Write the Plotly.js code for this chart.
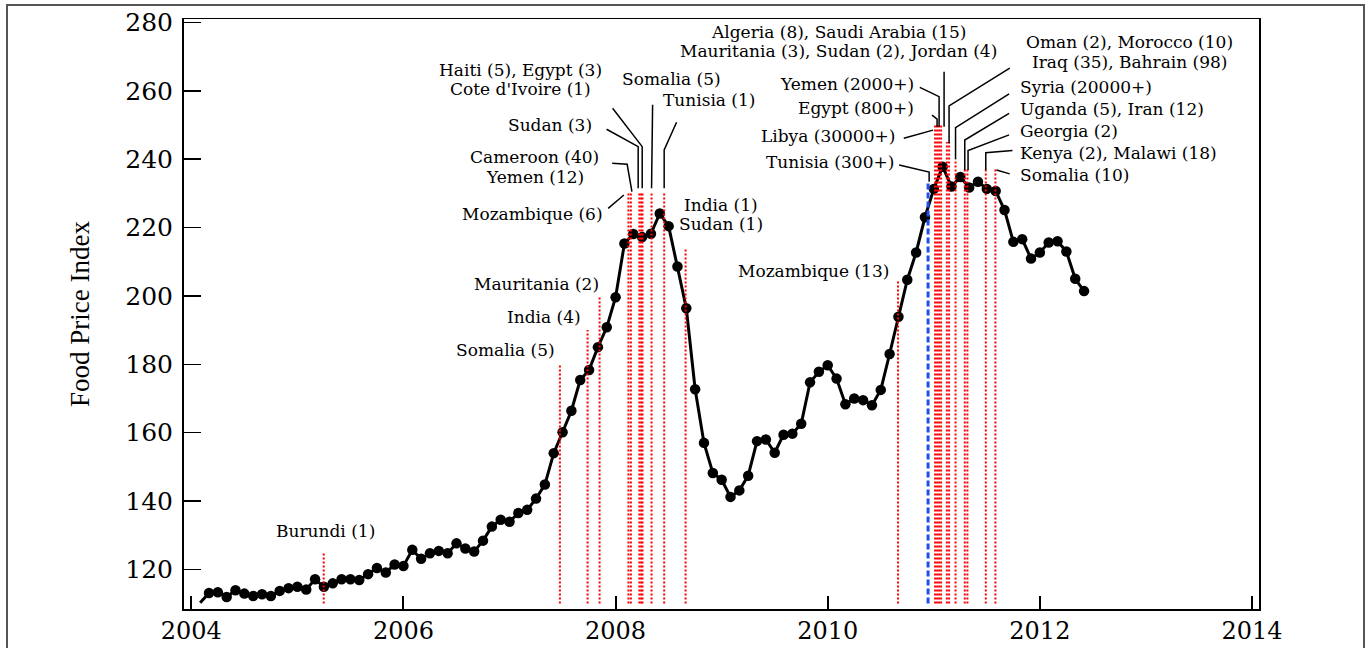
<!DOCTYPE html>
<html>
<head>
<meta charset="utf-8">
<script src="https://cdn.plot.ly/plotly-3.0.1.min.js"></script>
<style>
  html, body { margin: 0; padding: 0; background: #ffffff; width: 1371px; height: 648px; overflow: hidden; }
  #frame { position: absolute; left: 6px; top: 4px; width: 1359px; height: 700px; border: 2px solid #555; box-sizing: border-box; }
  #chart { position: absolute; left: 0; top: 0; width: 1371px; height: 648px; }
</style>
</head>
<body>
<div id="frame"></div>
<div id="chart"></div>
<script>
// Monthly FAO Food Price Index, starting February 2004 and ending June 2012
const startYear = 2004;
const startMonth = 2;
const foodPriceIndex = [
  110.2, 113.1, 113.3, 111.9, 113.9, 112.9, 112.2, 112.7, 112.2, 113.7,
  114.5, 114.9, 114.1, 117.1, 114.9, 115.9, 117.1, 117.1, 116.9, 118.6,
  120.4, 119.1, 121.4, 121.0, 125.7, 123.1, 124.7, 125.4, 124.7, 127.6,
  126.1, 125.2, 128.4, 132.5, 134.5, 133.9, 136.5, 137.4, 140.7, 144.8,
  154.0, 160.1, 166.4, 175.4, 178.3, 185.0, 190.8, 199.6, 215.3, 218.1,
  217.2, 218.2, 224.1, 220.4, 208.6, 196.4, 172.7, 157.0, 148.2, 146.2,
  141.2, 143.1, 147.4, 157.5, 158.0, 154.1, 159.4, 159.7, 162.6, 174.7,
  177.8, 179.7, 175.8, 168.3, 170.0, 169.5, 168.0, 172.5, 183.0, 193.9,
  204.7, 212.7, 223.0, 231.3, 237.8, 232.0, 234.8, 231.7, 233.4, 231.3,
  230.7, 225.1, 215.8, 216.6, 210.9, 212.7, 215.6, 216.0, 213.0, 205.0, 201.4
];

// Food riots (red dotted lines): date (decimal year) and line top (index units)
const riotDates = [2005.248, 2007.475, 2007.736, 2007.849, 2008.121, 2008.144, 2008.224, 2008.241, 2008.254,
  2008.339, 2008.458, 2008.660, 2010.663, 2011.012, 2011.031, 2011.050, 2011.069, 2011.123, 2011.144,
  2011.205, 2011.292, 2011.317, 2011.490, 2011.581];
const riotTops = [125, 180, 190, 200, 230, 230, 230, 230, 230,
  230, 230, 214, 204.5, 250, 250, 250, 250, 245, 245,
  240, 237.3, 237.3, 237, 237];
const riotBase = 110;

// Tunisia (300+) start of the Arab Spring (blue dashed line)
const arabSpringDate = 2010.946;
const arabSpringTop = 233.4;

// Event labels
const labelTexts = ["Burundi (1)", "Somalia (5)", "India (4)", "Mauritania (2)", "Mozambique (6)",
  "Cameroon (40)", "Yemen (12)", "Sudan (3)", "Haiti (5), Egypt (3)", "Cote d'Ivoire (1)",
  "Somalia (5)", "Tunisia (1)", "India (1)", "Sudan (1)", "Mozambique (13)",
  "Tunisia (300+)", "Libya (30000+)", "Egypt (800+)", "Yemen (2000+)",
  "Algeria (8), Saudi Arabia (15)", "Mauritania (3), Sudan (2), Jordan (4)",
  "Oman (2), Morocco (10)", "Iraq (35), Bahrain (98)", "Syria (20000+)",
  "Uganda (5), Iran (12)", "Georgia (2)", "Kenya (2), Malawi (18)", "Somalia (10)"];
const labelX = [2005.268, 2007.437, 2007.685, 2007.852, 2007.890,
  2007.236, 2007.236, 2007.789, 2007.106, 2007.106,
  2008.528, 2008.439, 2008.995, 2008.995, 2010.585,
  2010.632, 2010.648, 2010.827, 2010.827,
  2010.105, 2010.105,
  2012.847, 2012.847, 2011.804,
  2011.804, 2011.804, 2011.804, 2011.804];
const labelY = [131.2, 184.2, 193.9, 203.4, 224.0,
  240.6, 234.9, 250.0, 266.1, 260.45,
  263.5, 257.3, 226.6, 221.0, 207.4,
  239.3, 246.8, 254.9, 262.0,
  277.1, 271.5,
  274.2, 268.5, 261.0,
  254.6, 248.25, 241.7, 235.4];
const labelAnchor = ["center", "right", "right", "right", "right",
  "center", "center", "right", "center", "center",
  "center", "left", "center", "center", "right",
  "right", "right", "right", "right",
  "center", "center",
  "center", "center", "left",
  "left", "left", "left", "left"];

// Leader lines from labels to event lines (decimal year, index units)
const leaderX = [
  [2007.930, 2008.078],
  [2007.968, 2008.109, 2008.154],
  [2007.915, 2008.213, 2008.213],
  [2007.972, 2008.251, 2008.251],
  [2008.349, 2008.339],
  [2008.575, 2008.458, 2008.458],
  [2010.673, 2010.956, 2010.956],
  [2010.717, 2010.993],
  [2010.984, 2011.031, 2011.031],
  [2010.868, 2011.050, 2011.050],
  [2011.097, 2011.097],
  [2011.716, 2011.144, 2011.144],
  [2011.710, 2011.205, 2011.205],
  [2011.710, 2011.292, 2011.292],
  [2011.710, 2011.323, 2011.323],
  [2011.742, 2011.490, 2011.490],
  [2011.716, 2011.591]
];
const leaderY = [
  [225.6, 229.5],
  [238.8, 238.5, 230.5],
  [248.75, 243.66, 231.5],
  [254.9, 243.66, 231.5],
  [255.9, 231.5],
  [250.8, 242.7, 231.5],
  [238.3, 236.2, 233.4],
  [246.1, 248.5],
  [252.9, 251.7, 249.5],
  [261.0, 258.3, 249.5],
  [265.6, 249.5],
  [266.6, 255.6, 244.65],
  [259.1, 249.2, 240.0],
  [253.4, 245.6, 236.8],
  [247.1, 242.5, 236.8],
  [242.5, 241.9, 236.8],
  [235.7, 236.8]
];

const yearTicks = [2004, 2006, 2008, 2010, 2012, 2014];
const indexTicks = [120, 140, 160, 180, 200, 220, 240, 260, 280];

// ---- build traces ----
const monthX = foodPriceIndex.map((v, i) => startYear + (startMonth - 1 + i) / 12);
const markerSizes = foodPriceIndex.map((v, i) => i === 0 ? 0 : 10.5);

const fpiTrace = {
  x: monthX, y: foodPriceIndex, type: 'scatter', mode: 'lines+markers',
  line: { color: '#000000', width: 3 },
  marker: { color: '#000000', size: markerSizes, line: { width: 0 }, opacity: 1 },
  hoverinfo: 'x+y', showlegend: false
};

const rx = [], ry = [];
riotDates.forEach((d, i) => { rx.push(d, d, null); ry.push(riotBase, riotTops[i], null); });
const riotTrace = {
  x: rx, y: ry, type: 'scatter', mode: 'lines',
  line: { color: '#ff0000', width: 2, dash: '2px,2px' },
  hoverinfo: 'skip', showlegend: false
};

const blueTrace = {
  x: [arabSpringDate, arabSpringDate], y: [riotBase, arabSpringTop], type: 'scatter', mode: 'lines',
  line: { color: '#1f4fe8', width: 3, dash: '6px,3px' },
  hoverinfo: 'skip', showlegend: false
};

const lx = [], ly = [];
leaderX.forEach((xs, i) => { xs.forEach((v, j) => { lx.push(v); ly.push(leaderY[i][j]); }); lx.push(null); ly.push(null); });
const leaderTrace = {
  x: lx, y: ly, type: 'scatter', mode: 'lines',
  line: { color: '#000000', width: 1.5 },
  hoverinfo: 'skip', showlegend: false
};

const annFont = { family: 'DejaVu Serif', size: 17, color: '#000000' };
const annotations = labelTexts.map((t, i) => ({
  text: t, x: labelX[i], y: labelY[i], xref: 'x', yref: 'y',
  xanchor: labelAnchor[i], yanchor: 'middle', showarrow: false, font: annFont, borderpad: 0
}));

const layout = {
  width: 1371, height: 648,
  margin: { l: 184, r: 112, t: 19, b: 39, pad: 0 },
  paper_bgcolor: 'rgba(0,0,0,0)',
  plot_bgcolor: '#ffffff',
  showlegend: false,
  xaxis: {
    range: [2003.931, 2014.066], tickvals: yearTicks, ticktext: yearTicks.map(String),
    ticks: 'inside', ticklen: 13, tickwidth: 2, tickcolor: '#000',
    showline: true, linewidth: 1.5, linecolor: '#000', mirror: true,
    showgrid: false, zeroline: false,
    tickfont: { family: 'DejaVu Serif', size: 24, color: '#000' },
    ticklabelstandoff: 0
  },
  yaxis: {
    range: [108.4, 281.0], tickvals: indexTicks, ticktext: indexTicks.map(String),
    ticks: 'inside', ticklen: 17, tickwidth: 1.5, tickcolor: '#000',
    showline: true, linewidth: 2, linecolor: '#000', mirror: true,
    showgrid: false, zeroline: false,
    tickfont: { family: 'DejaVu Serif', size: 25, color: '#000' },
    ticklabelstandoff: 4,
    title: { text: 'Food Price Index', font: { family: 'Liberation Serif', size: 27, color: '#000' }, standoff: 28 }
  },
  annotations: annotations
};

Plotly.newPlot('chart', [fpiTrace, riotTrace, blueTrace, leaderTrace], layout, { displayModeBar: false, staticPlot: true });
</script>
</body>
</html>
